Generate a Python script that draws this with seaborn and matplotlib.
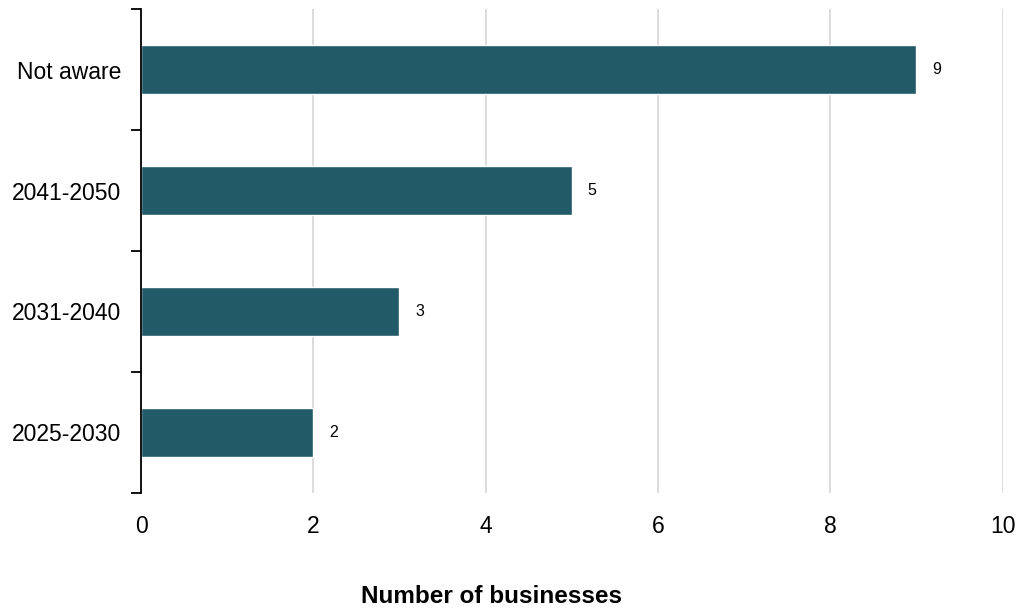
import matplotlib
matplotlib.use("Agg")
import matplotlib.pyplot as plt
import seaborn as sns
import pandas as pd

categories = ["Not aware", "2041-2050", "2031-2040", "2025-2030"]
values = [9, 5, 3, 2]
xticks = [0, 2, 4, 6, 8, 10]

sns.set_theme(style="white")
plt.rcParams['font.family'] = ['Liberation Sans', 'DejaVu Sans']
plt.rcParams['text.color'] = 'black'
plt.rcParams['xtick.color'] = 'black'
plt.rcParams['ytick.color'] = 'black'
plt.rcParams['axes.labelcolor'] = 'black'

df = pd.DataFrame({"cat": categories, "val": values})

fig = plt.figure(figsize=(10.22, 6.10), dpi=100)
ax = fig.add_axes([0.138, 0.192, 0.843, 0.793])

sns.barplot(data=df, x="val", y="cat", orient="h", color="#235a68",
            saturation=1, width=0.4, ax=ax, zorder=3)

ax.set_xlim(0, 10)
ax.set_ylim(3.5, -0.5)
ax.set_xticks(xticks)
ax.set_xticklabels([str(t) for t in xticks], fontsize=16.5)
ax.tick_params(axis="x", length=0, pad=16)
ax.tick_params(axis="y", which="major", length=0, pad=14, labelsize=16.5)
ax.set_yticks([y - 0.5 for y in range(len(categories) + 1)], minor=True)
ax.tick_params(axis="y", which="minor", left=True, length=7, width=1.3,
               color="black", direction="out")
ax.xaxis.grid(True, color="#d9d9d9", linewidth=1.3, zorder=0)
ax.set_axisbelow(True)
for s in ["top", "right", "bottom"]:
    ax.spines[s].set_visible(False)
ax.spines["left"].set_color("black")
ax.spines["left"].set_linewidth(1.3)
ax.spines["left"].set_zorder(5)

for i, v in enumerate(values):
    ax.annotate(str(v), xy=(v, i), xytext=(11.5, 0), textcoords="offset points",
                va="center", ha="left", fontsize=11.5, color="black")

ax.set_ylabel("")
ax.set_xlabel("Number of businesses", fontsize=17.5, fontweight="bold")
ax.xaxis.label.set_va("center")
ax.xaxis.set_label_coords(0.407, -0.215)

fig.savefig("out.png", dpi=100)
